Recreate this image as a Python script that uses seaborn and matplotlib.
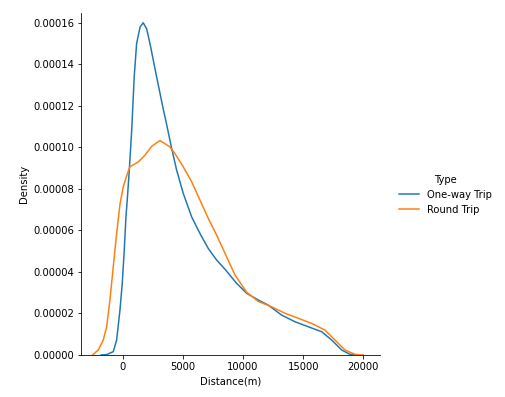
import numpy as np
import pandas as pd
import matplotlib
matplotlib.use("Agg")
import matplotlib.pyplot as plt
import seaborn as sns

# Density curves
oneway_x = [-1800, -1330, -780, -500, -224, -33, 133, 274, 382, 540, 750, 960,
            1160, 1450, 1710, 2000, 2270, 2820, 3370, 3656, 4072, 4487, 5036,
            5734, 6424, 7113, 7811, 8501, 9473, 10304, 11268, 12099, 13212,
            14318, 15423, 16537, 17368, 18199, 18889, 19400]
oneway_d = [0.0, 0.0000002, 0.0000016, 0.0000072, 0.0000216, 0.0000345,
            0.0000505, 0.0000665, 0.0000746, 0.000088, 0.000108, 0.000134,
            0.000150, 0.000158, 0.000160, 0.000157, 0.000150, 0.000134,
            0.0001185, 0.000111, 0.0000995, 0.000089, 0.0000778, 0.0000665,
            0.0000585, 0.0000513, 0.0000457, 0.0000413, 0.0000345, 0.0000297,
            0.0000265, 0.000024, 0.0000192, 0.000016, 0.0000136, 0.0000112,
            0.0000072, 0.0000024, 0.0000003, 0.0]

round_x = [-2500, -2028, -1612, -1330, -1055, -781, -499, -224, 50, 330, 600,
           1300, 1850, 2410, 3100, 3931, 4346, 5036, 5734, 6424, 7113, 7811,
           8501, 9332, 10304, 11268, 12382, 13487, 14592, 15706, 16811, 17642,
           18473, 19304, 20000]
round_d = [0.0, 0.0000024, 0.0000072, 0.0000136, 0.0000265, 0.0000425,
           0.0000585, 0.0000725, 0.000081, 0.0000862, 0.0000906, 0.000093,
           0.0000962, 0.0001005, 0.0001033, 0.0001002, 0.000097, 0.0000906,
           0.0000834, 0.0000746, 0.0000658, 0.0000577, 0.000049, 0.0000385,
           0.0000302, 0.0000258, 0.0000232, 0.0000201, 0.0000177, 0.0000152,
           0.000012, 0.0000072, 0.0000024, 0.0000003, 0.0]

types = ["One-way Trip", "Round Trip"]

df = pd.concat([
    pd.DataFrame({"Distance(m)": oneway_x, "Density": oneway_d, "Type": types[0]}),
    pd.DataFrame({"Distance(m)": round_x, "Density": round_d, "Type": types[1]}),
], ignore_index=True)

plt.rcParams["font.family"] = ["DejaVu Sans"]
fig = plt.figure(figsize=(505 / 72, 397 / 72), dpi=72)
ax = fig.add_axes([81 / 505, 1 - 355 / 397, (380 - 81) / 505, (355 - 13) / 397])

sns.lineplot(data=df, x="Distance(m)", y="Density", hue="Type",
             hue_order=types, palette=["#1f77b4", "#ff7f0e"], ax=ax,
             linewidth=1.5, sort=False, estimator=None)

ax.set_xlim(-3460, 21380)
ax.set_ylim(0, 0.0001647)
ax.set_xticks([0, 5000, 10000, 15000, 20000])
ax.set_yticks([0, 0.00002, 0.00004, 0.00006, 0.00008, 0.0001, 0.00012, 0.00014, 0.00016])
ax.set_yticklabels([f"{v:.5f}" for v in ax.get_yticks()])
sns.despine(ax=ax)

handles, labels = ax.get_legend_handles_labels()
ax.get_legend().remove()
fig.legend(handles, labels, title="Type", loc="center left",
           bbox_to_anchor=(390 / 505, 0.51), frameon=False)

fig.savefig("out.png", dpi=72)
